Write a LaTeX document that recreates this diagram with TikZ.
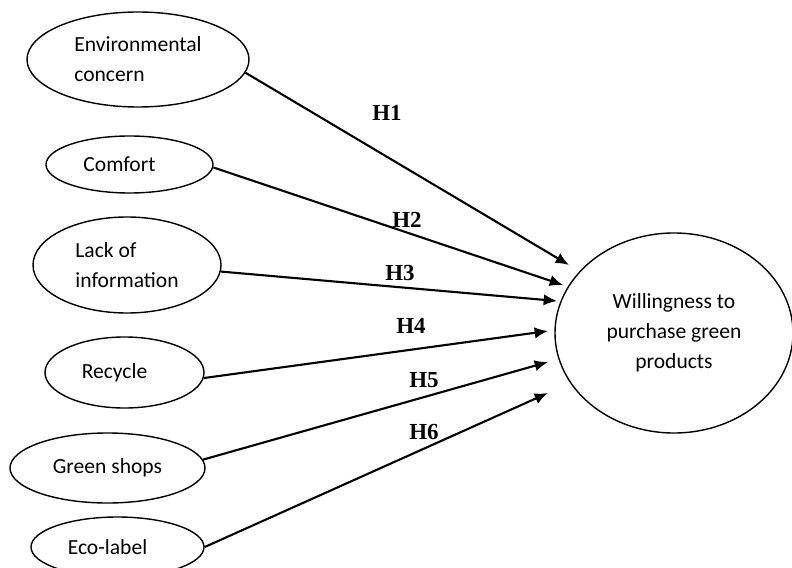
\documentclass[tikz,border=0pt]{standalone}
\usepackage{fontspec}
\setmainfont{Carlito}
\newfontfamily\hypfont{Liberation Serif}
\usetikzlibrary{shapes.geometric,arrows.meta}

\begin{document}
\begin{tikzpicture}[x=0.03cm, y=-0.03cm,
	construct/.style={draw, ellipse, line width=1.2pt, inner sep=0pt, align=left, font=\fontsize{18.4}{25.5}\selectfont},
	hyp/.style={font=\hypfont\bfseries\fontsize{19.6}{22}\selectfont},
	link/.style={line width=1.8pt, -{Latex[length=0.4cm, width=0.34cm]}}]
			
			\useasboundingbox (0,0) rectangle (792,568);
			
			\node[construct, minimum width=6.66cm, minimum height=2.85cm] (env) at (138,59.5) {Environmental\\concern};
			\node[construct, minimum width=5.01cm, minimum height=1.71cm] (comfort) at (129.5,164.5) {\kern-0.6cm Comfort};
			\node[construct, minimum width=5.64cm, minimum height=2.88cm] (lack) at (127,265) {Lack of\\information};
			\node[construct, minimum width=4.77cm, minimum height=2.13cm] (recycle) at (124.5,372.5) {\kern-0.6cm Recycle};
			\node[construct, minimum width=5.85cm, minimum height=2.1cm] (shops) at (107.5,468) {Green shops};
			\node[construct, minimum width=5.19cm, minimum height=1.8cm] (eco) at (117.5,547) {\kern-0.6cm Eco-label};
			
			\node[construct, align=center, minimum width=7.14cm, minimum height=6cm] (wtp) at (674,333) {Willingness to\\purchase green\\products};
			
			\coordinate (t1) at (569,265);
			\coordinate (t2) at (563,285);
			\coordinate (t3) at (557,301);
			\coordinate (t4) at (548,331);
			\coordinate (t5) at (548,362);
			\coordinate (t6) at (548,393);
			
			\draw[link] (env.-7) -- (t1);
			\draw[link] (comfort.-2) -- (t2);
			\draw[link] (lack.-4) -- (t3);
			\draw[link] (recycle.-4) -- (t4);
			\draw[link] (shops.5) -- (t5);
			\draw[link] (eco.east) -- (t6);
			
			\node[hyp] (h1) at (387,113) {H1};
			\node[hyp] (h2) at (407,220) {H2};
			\node[hyp] (h3) at (400,273) {H3};
			\node[hyp] (h4) at (411,326) {H4};
			\node[hyp] (h5) at (424,380) {H5};
			\node[hyp] (h6) at (424,432) {H6};
			
\end{tikzpicture}
\end{document}
